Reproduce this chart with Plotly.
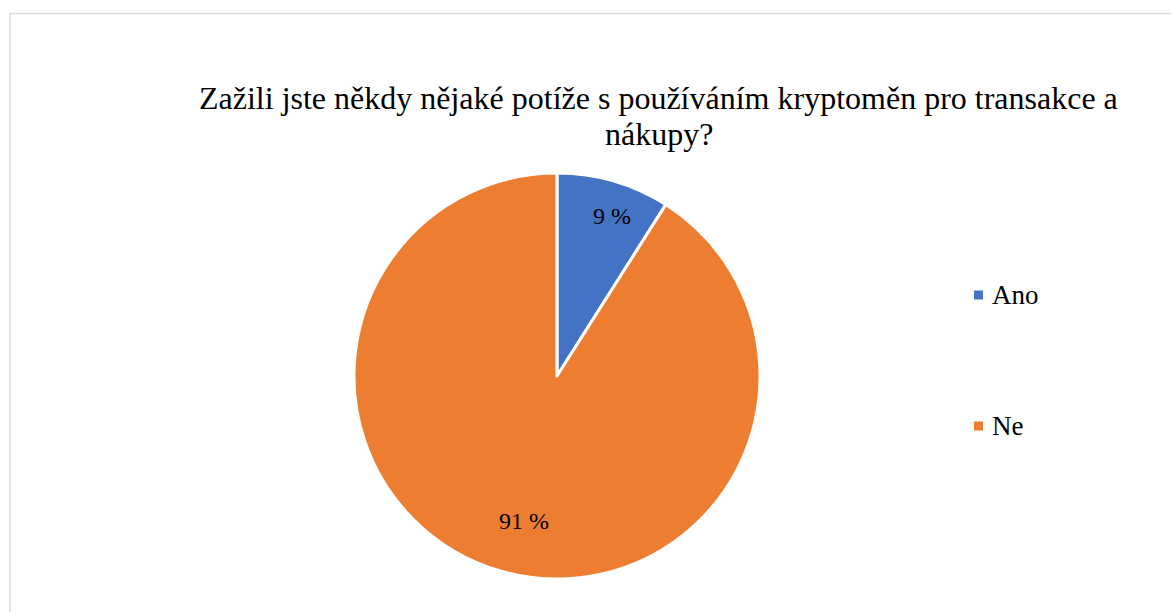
import math
import plotly.graph_objects as go

# Survey answers and their shares (percent)
categories = ["Ano", "Ne"]
shares = [9, 91]
colors = ["#4472C4", "#ED7D31"]

title_lines = ["Zažili jste někdy nějaké potíže s používáním kryptoměn pro transakce a", "nákupy?"]

W, H = 1171, 612
serif = "'Times New Roman', 'Liberation Serif', Tinos, 'DejaVu Serif', serif"

# Pie placement in pixels
cx, cy, r = 557, 376, 203
label_radius = [0.82, 0.744]
label_dx = 9

fig = go.Figure()
fig.add_trace(go.Pie(
    labels=categories,
    values=shares,
    textinfo="none",
    marker=dict(colors=colors, line=dict(color="#ffffff", width=3)),
    sort=False,
    direction="clockwise",
    rotation=0,
    showlegend=False,
    hoverinfo="label+percent",
    domain=dict(x=[(cx - r) / W, (cx + r) / W], y=[(H - cy - r) / H, (H - cy + r) / H]),
))

# Chart frame
shapes = [dict(type="rect", xref="paper", yref="paper",
               x0=10 / W, x1=1.02, y0=-0.02, y1=1 - 13.5 / H,
               line=dict(color="#d9d9d9", width=1.5), fillcolor="rgba(0,0,0,0)", layer="below")]

# Two-line title with tight line spacing
annotations = []
for line, ty in zip(title_lines, [98, 134]):
    annotations.append(dict(text=line, x=659 / W, y=1 - ty / H, xref="paper", yref="paper",
                            xanchor="center", yanchor="middle", showarrow=False,
                            font=dict(family=serif, size=32, color="#000000")))

# Percentage labels at the middle angle of each slice
total = sum(shares)
start = 0.0
for v, frac in zip(shares, label_radius):
    mid = (start + v / 2) / total * 2 * math.pi
    start += v
    px = cx + frac * r * math.sin(mid) + label_dx
    py = cy - frac * r * math.cos(mid)
    annotations.append(dict(text=f"{v} %", x=px / W, y=1 - py / H, xref="paper", yref="paper",
                            xanchor="center", yanchor="middle", showarrow=False,
                            font=dict(family=serif, size=24, color="#000000")))

# Legend entries on the right
legend_y = [295, 426]
for name, col, ly in zip(categories, colors, legend_y):
    shapes.append(dict(type="rect", xref="paper", yref="paper",
                       x0=974 / W, x1=983 / W, y0=1 - (ly + 4.5) / H, y1=1 - (ly - 4.5) / H,
                       line=dict(width=0), fillcolor=col))
    annotations.append(dict(text=name, x=990 / W, y=1 - ly / H, xref="paper", yref="paper",
                            xanchor="left", yanchor="middle", showarrow=False,
                            font=dict(family=serif, size=27, color="#000000")))

fig.update_layout(
    width=W, height=H,
    margin=dict(l=0, r=0, t=0, b=0),
    paper_bgcolor="#ffffff",
    plot_bgcolor="#ffffff",
    shapes=shapes,
    annotations=annotations,
)

fig.write_html("out.html")
